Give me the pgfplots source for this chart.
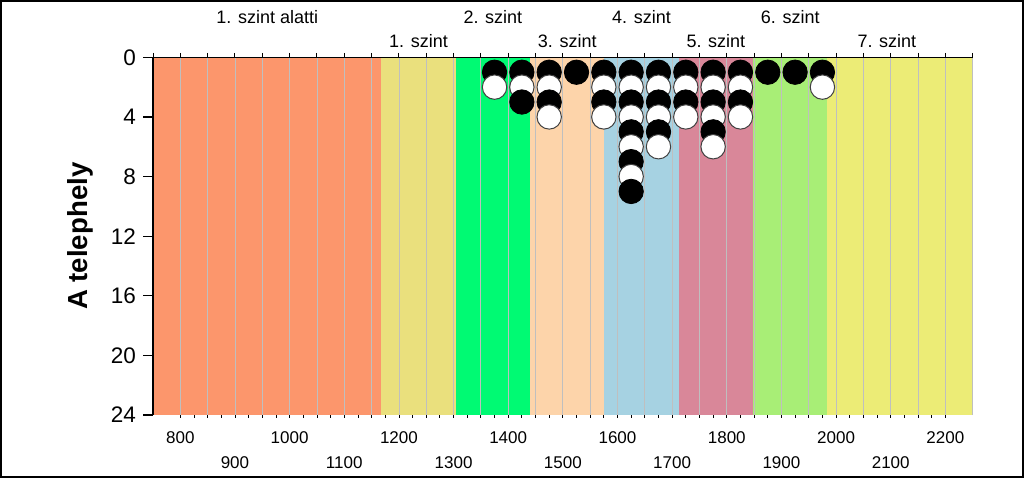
\documentclass[border=0pt]{standalone}
\usepackage{pgfplots}
\pgfplotsset{compat=1.18}
\usepackage{fontspec}
\setmainfont{Liberation Sans}

\definecolor{band1}{RGB}{252,150,108}
\definecolor{band2}{RGB}{234,224,125}
\definecolor{band3}{RGB}{0,250,115}
\definecolor{band4}{RGB}{253,212,170}
\definecolor{band5}{RGB}{166,210,226}
\definecolor{band6}{RGB}{217,135,153}
\definecolor{band7}{RGB}{168,238,118}
\definecolor{band8}{RGB}{236,236,118}

\pgfplotsset{
  common/.style={at={(76.5pt,31.5pt)}, anchor=south west,
    scale only axis, width=409.85pt, height=178.85pt,
    xmin=750, xmax=2250, ymin=0, ymax=24},
}

\begin{document}
\begin{tikzpicture}
\draw[line width=1.2pt] (0.6pt,0.6pt) rectangle (511.4pt,238.4pt);

% bands, grid and top axis
\begin{axis}[common,
  axis x line*=top, axis y line=none, axis on top,
  xtick={750,800,...,2250}, xticklabels={}, ytick=\empty,
  xmajorgrids, grid style={color=black!25, line width=0.4pt},
  tick align=outside, major tick length=2.2pt,
  x axis line style={line width=0.6pt},
  every tick/.style={black, line width=0.5pt}]
  \addplot[draw=none, fill=band1] coordinates {(750,0) (1168,0) (1168,24) (750,24)} -- cycle;
  \addplot[draw=none, fill=band2] coordinates {(1168,0) (1304,0) (1304,24) (1168,24)} -- cycle;
  \addplot[draw=none, fill=band3] coordinates {(1304,0) (1440,0) (1440,24) (1304,24)} -- cycle;
  \addplot[draw=none, fill=band4] coordinates {(1440,0) (1576,0) (1576,24) (1440,24)} -- cycle;
  \addplot[draw=none, fill=band5] coordinates {(1576,0) (1712,0) (1712,24) (1576,24)} -- cycle;
  \addplot[draw=none, fill=band6] coordinates {(1712,0) (1848,0) (1848,24) (1712,24)} -- cycle;
  \addplot[draw=none, fill=band7] coordinates {(1848,0) (1984,0) (1984,24) (1848,24)} -- cycle;
  \addplot[draw=none, fill=band8] coordinates {(1984,0) (2250,0) (2250,24) (1984,24)} -- cycle;
\end{axis}

% dots, y axis, bottom labels
\begin{axis}[common, y dir=reverse, clip=false,
  axis x line*=bottom, axis y line*=left,
  x axis line style={draw=none},
  y axis line style={line width=0.6pt},
  xtick={800,1000,...,2200},
  extra x ticks={900,1100,...,2100},
  extra x tick style={xticklabel style={yshift=-12.5pt}},
  minor x tick num=7,
  ytick={0,4,...,24},
  tick align=outside, major tick length=5pt, minor tick length=1.3pt,
  xtick style={/pgfplots/major tick length=1.3pt, black, line width=0.4pt},
  ytick style={black, line width=0.6pt},
  /pgf/number format/assume math mode=true,
  /pgf/number format/1000 sep={},
  xticklabel style={font=\fontsize{8.5}{10}\selectfont},
  yticklabel style={font=\fontsize{11.25}{13}\selectfont},
  ylabel={A telephely},
  ylabel style={font=\bfseries\fontsize{13.8}{15}\selectfont,
    at={(axis description cs:-0.0885,0.5)}, anchor=center}]
  \addplot[scatter, only marks, scatter src=explicit symbolic, mark size=6.1pt,
    scatter/classes={
      b={mark=*, draw=black, fill=black},
      w={mark=*, draw=black!75, fill=white, line width=0.5pt}}]
  coordinates {
    (1375,1) [b] (1425,1) [b] (1475,1) [b] (1525,1) [b] (1575,1) [b]
    (1625,1) [b] (1675,1) [b] (1725,1) [b] (1775,1) [b] (1825,1) [b]
    (1875,1) [b] (1925,1) [b] (1975,1) [b]
    (1375,2) [w] (1425,2) [w] (1475,2) [w] (1575,2) [w] (1625,2) [w]
    (1675,2) [w] (1725,2) [w] (1775,2) [w] (1825,2) [w] (1975,2) [w]
    (1425,3) [b] (1475,3) [b] (1575,3) [b] (1625,3) [b] (1675,3) [b]
    (1725,3) [b] (1775,3) [b] (1825,3) [b]
    (1475,4) [w] (1575,4) [w] (1625,4) [w] (1675,4) [w] (1725,4) [w]
    (1775,4) [w] (1825,4) [w]
    (1625,5) [b] (1675,5) [b] (1775,5) [b]
    (1625,6) [w] (1675,6) [w] (1775,6) [w]
    (1625,7) [b]
    (1625,8) [w]
    (1625,9) [b]
  };
  \node[font=\fontsize{9}{10}\selectfont, yshift=19.9pt] at (axis cs:959,0) {1. szint alatti};
  \node[font=\fontsize{9}{10}\selectfont, yshift=8.25pt] at (axis cs:1236,0) {1. szint};
  \node[font=\fontsize{9}{10}\selectfont, yshift=19.9pt] at (axis cs:1372,0) {2. szint};
  \node[font=\fontsize{9}{10}\selectfont, yshift=8.25pt] at (axis cs:1508,0) {3. szint};
  \node[font=\fontsize{9}{10}\selectfont, yshift=19.9pt] at (axis cs:1644,0) {4. szint};
  \node[font=\fontsize{9}{10}\selectfont, yshift=8.25pt] at (axis cs:1780,0) {5. szint};
  \node[font=\fontsize{9}{10}\selectfont, yshift=19.9pt] at (axis cs:1916,0) {6. szint};
  \node[font=\fontsize{9}{10}\selectfont, yshift=8.25pt] at (axis cs:2093,0) {7. szint};
\end{axis}
\end{tikzpicture}
\end{document}
